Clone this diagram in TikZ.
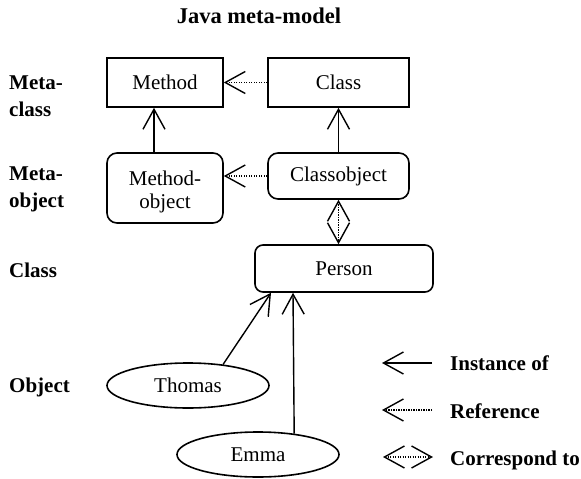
\documentclass[tikz,border=0pt]{standalone}
\usepackage{fontspec}
\setmainfont{Liberation Serif}
\usetikzlibrary{arrows.meta,shapes.geometric}

\begin{document}
\begin{tikzpicture}[x=1pt,y=-1pt,
  every node/.style={font=\fontsize{21}{27}\selectfont},
  lbl/.style={font=\fontsize{21}{27}\selectfont\bfseries,align=left,anchor=west,inner sep=0pt},
  legtext/.style={font=\fontsize{21}{27}\selectfont\bfseries,anchor=base west,inner sep=0pt},
  sqbox/.style={draw,line width=1.6pt,inner sep=0pt,align=center},
  rbox/.style={sqbox,rounded corners=10pt},
  obj/.style={draw,ellipse,line width=1.6pt,inner sep=0pt},
  vtip/.tip={Straight Barb[length=20pt,width=22pt,line width=1.4pt]},
  inst/.style={line width=1.4pt,-vtip},
  refl/.style={line width=1.1pt,dash pattern=on 1.1pt off 1.4pt,-vtip},
  corr/.style={line width=1.1pt,dash pattern=on 1.1pt off 1.4pt,vtip-vtip}]
\useasboundingbox (0,0) rectangle (581,479);

% title
\node[font=\fontsize{22.5}{27}\selectfont\bfseries] (title) at (259,16) {Java meta-model};

% level labels
\node[lbl] (lmc) at (9,96) {Meta-\\class};
\node[lbl] (lmo) at (9,189) {Meta-\\object};
\node[lbl] (lcl) at (9,270) {Class};
\node[lbl] (lob) at (9,387) {Object};

% meta-classes
\node[sqbox,minimum width=116pt,minimum height=49pt] (m) at (165,82.5) {Method};
\node[sqbox,minimum width=141pt,minimum height=49pt] (c) at (338.5,82.5) {Class};

% meta-objects
\node[rbox,minimum width=116pt,minimum height=70pt] (mo) at (165,188) {};
\node[align=center,inner sep=0pt,font=\fontsize{21}{22.5}\selectfont] (mot) at (165,192) {Method-\\object};
\node[rbox,minimum width=141pt,minimum height=46pt] (co) at (338.5,176) {Classobject};

% class
\node[rbox,rounded corners=8pt,minimum width=178pt,minimum height=47pt] (p) at (344,268.5) {Person};

% objects
\node[obj,minimum width=162pt,minimum height=45pt] (th) at (188,385.5) {Thomas};
\node[obj,minimum width=162pt,minimum height=45pt] (em) at (258,454.5) {Emma};

% helper columns
\coordinate (xm) at (154,0);
\coordinate (xt) at (271,0);
\coordinate (xe) at (293,0);

% instance-of arrows
\draw[inst] (mo.north -| xm) -- (m.south -| xm);
\draw[inst] (co.north) -- (c.south);
\draw[inst] (th.31) -- (p.south -| xt);
\draw[inst] (em.30) -- (p.south -| xe);

% references
\draw[refl] (c.west) -- (m.east);
\draw[refl] (co.west) -- (mo.east |- co.west);

% correspondence
\draw[corr] (co.south) -- (p.north -| co.south);

% legend
\coordinate (a1) at (432,363);
\coordinate (b1) at (382,363);
\coordinate (a2) at (432,410);
\coordinate (b2) at (382,410);
\coordinate (a3) at (433,457);
\coordinate (b3) at (383,457);
\draw[inst] (a1) -- (b1);
\draw[refl] (a2) -- (b2);
\draw[corr] (b3) -- (a3);
\node[legtext] (t1) at (450,370) {Instance of};
\node[legtext] (t2) at (450,418) {Reference};
\node[legtext] (t3) at (450,465) {Correspond to};
\end{tikzpicture}
\end{document}
